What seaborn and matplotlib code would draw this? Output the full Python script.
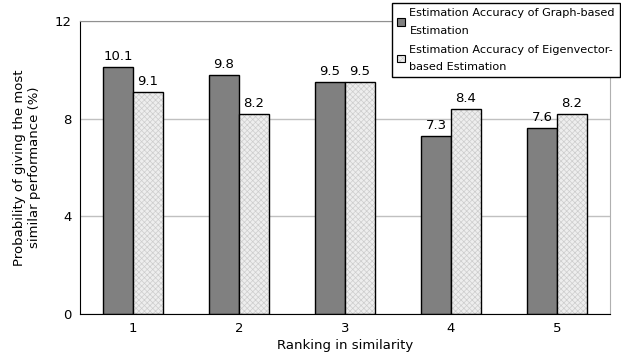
import pandas as pd
import matplotlib
matplotlib.use("Agg")
import matplotlib.pyplot as plt
import seaborn as sns

# Data
rankings = ["1", "2", "3", "4", "5"]
graph_based = [10.1, 9.8, 9.5, 7.3, 7.6]
eigen_based = [9.1, 8.2, 9.5, 8.4, 8.2]
series_names = ["Estimation Accuracy of Graph-based\nEstimation",
                "Estimation Accuracy of Eigenvector-\nbased Estimation"]

df = pd.DataFrame({
    "rank": rankings * 2,
    "value": graph_based + eigen_based,
    "series": [series_names[0]] * 5 + [series_names[1]] * 5,
})

sns.set_style("white", {"text.color": "black", "axes.labelcolor": "black",
                        "xtick.color": "black", "ytick.color": "black"})
plt.rcParams["font.family"] = ["DejaVu Sans"]
plt.rcParams["hatch.linewidth"] = 0.5


def light_hatch(patch):
    patch.set_hatch("xxxxxx")
    if hasattr(patch, "set_hatchcolor"):
        patch.set_hatchcolor("#cdcdcd")
    else:
        patch._hatch_color = matplotlib.colors.to_rgba("#cdcdcd")


fig = plt.figure(figsize=(6.21, 3.6), dpi=100)
ax = fig.add_axes([0.1288, 0.1278, 0.8535, 0.8139])

sns.barplot(data=df, x="rank", y="value", hue="series",
            palette=["#808080", "#eeeeee"], width=0.566,
            edgecolor="black", linewidth=1.0, saturation=1, ax=ax,
            legend=True)

for bar in ax.containers[1]:
    light_hatch(bar)

for cont in ax.containers:
    ax.bar_label(cont, fmt="%.1f", padding=3, fontsize=9.5)

ax.set_ylim(0, 12)
ax.set_yticks([0, 4, 8, 12])
ax.set_xlim(-0.5, 4.5)
ax.yaxis.grid(True, color="#c0c0c0", linewidth=1)
ax.set_axisbelow(True)
ax.tick_params(axis="both", length=0, labelsize=9.5, pad=6)

ax.spines["left"].set_color("black")
ax.spines["bottom"].set_color("black")
ax.spines["top"].set_color("#909090")
ax.spines["right"].set_color("#b0b0b0")

ax.set_xlabel("Ranking in similarity", fontsize=9.5, labelpad=3)
ax.set_ylabel("Probability of giving the most\nsimilar performance (%)",
              fontsize=9.5, labelpad=10)

leg = ax.legend(loc="upper left", bbox_to_anchor=(392 / 621, 1 - 3 / 360),
                bbox_transform=fig.transFigure, frameon=True, fancybox=False,
                fontsize=8.1, handlelength=0.7, handleheight=0.7,
                handletextpad=0.4, borderpad=0.45, labelspacing=0.8,
                borderaxespad=0)
leg.get_frame().set_edgecolor("black")
leg.get_frame().set_linewidth(1.0)
leg.get_frame().set_alpha(1)
for t in leg.get_texts():
    t.set_linespacing(1.95)
for h in leg.legend_handles:
    h.set_linewidth(0.8)
light_hatch(leg.legend_handles[1])

fig.savefig("out.png", dpi=100)
